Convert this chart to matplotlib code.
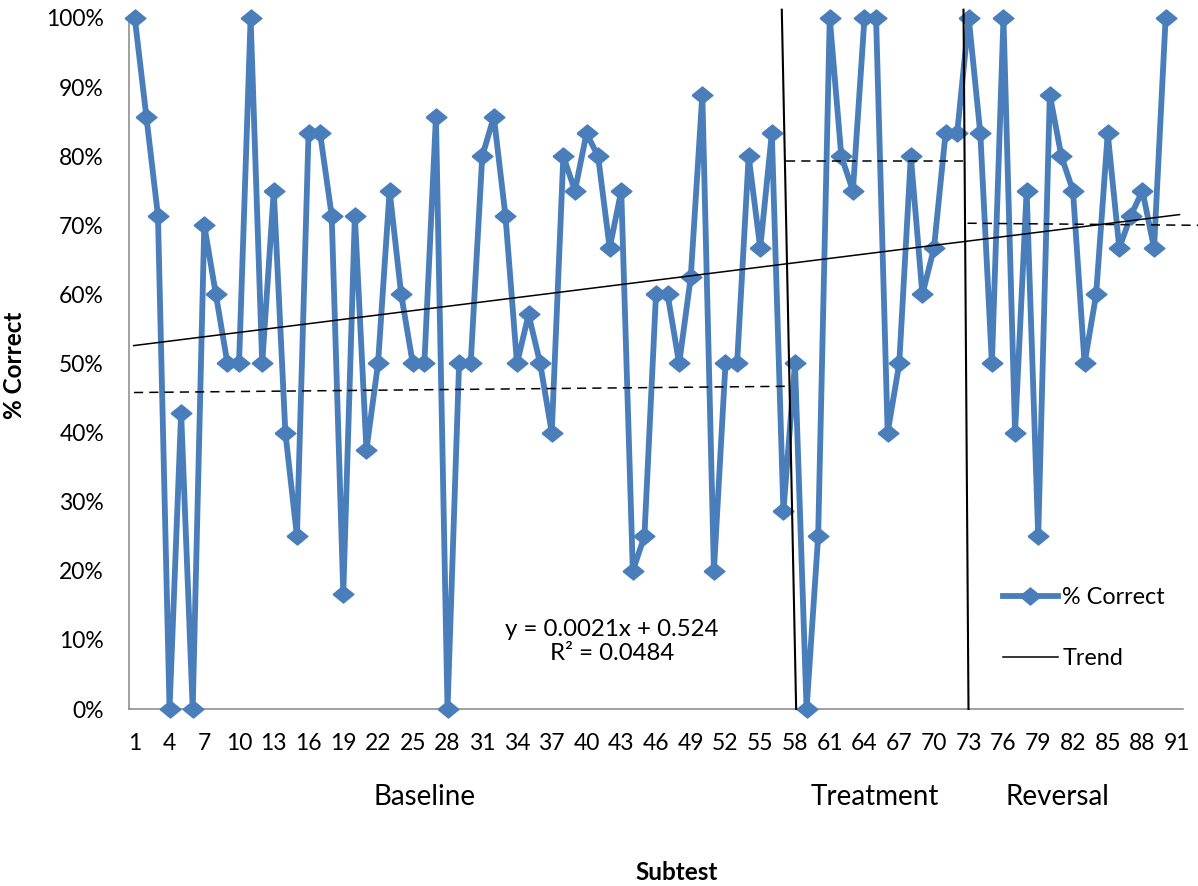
import numpy as np
import matplotlib
matplotlib.use('Agg')
import matplotlib.pyplot as plt
from matplotlib.lines import Line2D
from matplotlib.ticker import PercentFormatter

plt.rcParams['font.family'] = ['Lato', 'DejaVu Sans']

# % correct per subtest (91 categories, last one empty)
subtests = np.arange(1, 92)
pct_correct = [
    1.000, 0.857, 0.714, 0.000, 0.429, 0.000, 0.700, 0.600, 0.500, 0.500,
    1.000, 0.500, 0.750, 0.400, 0.250, 0.833, 0.833, 0.714, 0.167, 0.714,
    0.375, 0.500, 0.750, 0.600, 0.500, 0.500, 0.857, 0.000, 0.500, 0.500,
    0.800, 0.857, 0.714, 0.500, 0.571, 0.500, 0.400, 0.800, 0.750, 0.833,
    0.800, 0.667, 0.750, 0.200, 0.250, 0.600, 0.600, 0.500, 0.625, 0.889,
    0.200, 0.500, 0.500, 0.800, 0.667, 0.833, 0.286, 0.500, 0.000, 0.250,
    1.000, 0.800, 0.750, 1.000, 1.000, 0.400, 0.500, 0.800, 0.600, 0.667,
    0.833, 0.833, 1.000, 0.833, 0.500, 1.000, 0.400, 0.750, 0.250, 0.889,
    0.800, 0.750, 0.500, 0.600, 0.833, 0.667, 0.714, 0.750, 0.667, 1.000,
]
n_pts = len(pct_correct)

# linear trend as printed on the chart
trend_slope = 0.0021
trend_icpt = 0.524
trend_x = [0.9, 91.2]

# phase means (dashed) and phase dividers (hand drawn)
base_mean_x, base_mean_y = [0.93, 57.2], [0.458, 0.467]
treat_mean_x, treat_mean_y = [57.2, 72.5], [0.793, 0.793]
rev_mean_x, rev_mean_y = [72.9, 92.8], [0.703, 0.700]
div1_x, div1_y = [56.86, 58.1], [1.012, 0.0]
div2_x, div2_y = [72.55, 72.98], [1.012, 0.0]

phases = ['Baseline', 'Treatment', 'Reversal']
phase_x = [26.0, 64.9, 80.7]

blue = '#4A7EBB'
diamond = [(-1, 0), (0, 0.82), (1, 0), (0, -0.82), (-1, 0)]

fig = plt.figure(figsize=(11.98, 8.86), dpi=100)
ax = fig.add_axes([129/1198, 1 - 709/886, (1183 - 129)/1198, (709 - 18)/886])

line, = ax.plot(subtests[:n_pts], pct_correct, color=blue, lw=4.2,
                marker=diamond, ms=15, mec=blue, mfc=blue, clip_on=False, zorder=3)

tx = np.array(trend_x)
trend, = ax.plot(tx, trend_icpt + trend_slope * tx, color='black', lw=1.1, zorder=4)

dash = dict(color='black', lw=1.1, ls=(0, (6, 4)), clip_on=False, zorder=4)
ax.plot(base_mean_x, base_mean_y, **dash)
ax.plot(treat_mean_x, treat_mean_y, **dash)
ax.plot(rev_mean_x, rev_mean_y, **dash)
ax.plot(div1_x, div1_y, color='black', lw=1.5, clip_on=False, zorder=4)
ax.plot(div2_x, div2_y, color='black', lw=1.5, clip_on=False, zorder=4)

ax.set_xlim(0.5, 91.5)
ax.set_ylim(0, 1)
ax.set_yticks(np.arange(0, 1.01, 0.1))
ax.yaxis.set_major_formatter(PercentFormatter(1.0, decimals=0))
ax.set_xticks(subtests[::3])
ax.set_xticklabels([str(s) for s in subtests[::3]])
ax.tick_params(axis='both', length=0, labelsize=16.5)
ax.tick_params(axis='y', pad=18)
ax.tick_params(axis='x', pad=17)

for s in ['top', 'right']:
    ax.spines[s].set_visible(False)
for s in ['left', 'bottom']:
    ax.spines[s].set_color('#868686')
    ax.spines[s].set_linewidth(1.1)

ax.text(42.2, 0.098, 'y = 0.0021x + 0.524\nR² = 0.0484', ha='center', va='center',
        fontsize=17.3, linespacing=1.2)

for name, px in zip(phases, phase_x):
    ax.text(px, -0.127, name, transform=ax.get_xaxis_transform(),
            ha='center', va='center', fontsize=20)

fig.text(15/1198, 1 - 365/886, '% Correct', rotation=90, ha='center', va='center',
         fontsize=17.5, fontweight='bold')
fig.text(677/1198, 1 - 873/886, 'Subtest', ha='center', va='center',
         fontsize=17.5, fontweight='bold')

leg_handles = [Line2D([], [], color=blue, lw=4.2, marker=diamond, ms=15, mec=blue, mfc=blue),
               Line2D([], [], color='black', lw=1.1)]
ax.legend(leg_handles, ['% Correct', 'Trend'], loc='center left',
          bbox_to_anchor=(1003/1198, 1 - 628/886), bbox_transform=fig.transFigure,
          frameon=False, fontsize=16.8, handlelength=2.35, handletextpad=0.2,
          labelspacing=1.7, borderpad=0, borderaxespad=0)

fig.savefig('out.png', dpi=100)
